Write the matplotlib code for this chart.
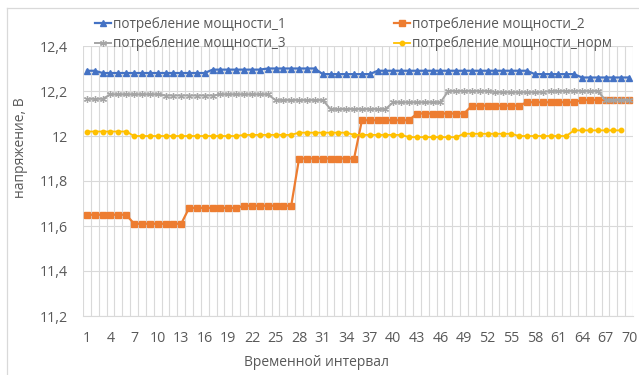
import matplotlib
matplotlib.use("Agg")
import matplotlib.pyplot as plt
from matplotlib.lines import Line2D

plt.rcParams['font.family'] = ['Open Sans', 'DejaVu Sans']

# Time intervals (categories) and supply voltage for each load case
intervals = list(range(1, 71))

power_1 = [
    12.29, 12.29, 12.28, 12.28, 12.28, 12.28, 12.28, 12.28, 12.28, 12.28,
    12.28, 12.28, 12.28, 12.28, 12.28, 12.28, 12.295, 12.295, 12.295, 12.295,
    12.295, 12.295, 12.295, 12.30, 12.30, 12.30, 12.30, 12.30, 12.30, 12.30,
    12.275, 12.275, 12.275, 12.275, 12.275, 12.275, 12.275, 12.29, 12.29, 12.29,
    12.29, 12.29, 12.29, 12.29, 12.29, 12.29, 12.29, 12.29, 12.29, 12.29,
    12.29, 12.29, 12.29, 12.29, 12.29, 12.29, 12.29, 12.275, 12.275, 12.275,
    12.275, 12.275, 12.275, 12.26, 12.26, 12.26, 12.26, 12.26, 12.26, 12.26,
]

power_2 = [
    11.65, 11.65, 11.65, 11.65, 11.65, 11.65, 11.61, 11.61, 11.61, 11.61,
    11.61, 11.61, 11.61, 11.68, 11.68, 11.68, 11.68, 11.68, 11.68, 11.68,
    11.69, 11.69, 11.69, 11.69, 11.69, 11.69, 11.69, 11.90, 11.90, 11.90,
    11.90, 11.90, 11.90, 11.90, 11.90, 12.07, 12.07, 12.07, 12.07, 12.07,
    12.07, 12.07, 12.10, 12.10, 12.10, 12.10, 12.10, 12.10, 12.10, 12.135,
    12.135, 12.135, 12.135, 12.135, 12.135, 12.135, 12.15, 12.15, 12.15, 12.15,
    12.15, 12.15, 12.15, 12.16, 12.16, 12.16, 12.16, 12.16, 12.16, 12.16,
]

power_3 = [
    12.165, 12.165, 12.165, 12.185, 12.185, 12.185, 12.185, 12.185, 12.185, 12.185,
    12.18, 12.18, 12.18, 12.18, 12.18, 12.18, 12.18, 12.185, 12.185, 12.185,
    12.185, 12.185, 12.185, 12.185, 12.16, 12.16, 12.16, 12.16, 12.16, 12.16,
    12.16, 12.12, 12.12, 12.12, 12.12, 12.12, 12.12, 12.12, 12.12, 12.15,
    12.15, 12.15, 12.15, 12.15, 12.15, 12.15, 12.20, 12.20, 12.20, 12.20,
    12.20, 12.20, 12.195, 12.195, 12.195, 12.195, 12.195, 12.195, 12.195, 12.20,
    12.20, 12.20, 12.20, 12.20, 12.20, 12.20, 12.16, 12.16, 12.16, 12.16,
]

power_norm = [
    12.02, 12.02, 12.02, 12.02, 12.02, 12.02, 12.00, 12.00, 12.00, 12.00,
    12.00, 12.00, 12.00, 12.00, 12.00, 12.00, 12.00, 12.00, 12.00, 12.00,
    12.005, 12.005, 12.005, 12.005, 12.005, 12.005, 12.005, 12.015, 12.015, 12.015,
    12.015, 12.015, 12.015, 12.015, 12.005, 12.005, 12.005, 12.005, 12.005, 12.005,
    12.005, 11.995, 11.995, 11.995, 11.995, 11.995, 11.995, 11.995, 12.01, 12.01,
    12.01, 12.01, 12.01, 12.01, 12.01, 12.00, 12.00, 12.00, 12.00, 12.00,
    12.00, 12.00, 12.025, 12.025, 12.025, 12.025, 12.025, 12.025, 12.025,
]

series_names = [
    'потребление мощности_1',
    'потребление мощности_2',
    'потребление мощности_3',
    'потребление мощности_норм',
]

x_tick_values = list(range(1, 71, 3))
y_tick_values = [11.2, 11.4, 11.6, 11.8, 12.0, 12.2, 12.4]
y_tick_labels = ['11,2', '11,4', '11,6', '11,8', '12', '12,2', '12,4']

x_title = 'Временной интервал'
y_title = 'напряжение, В'

# ---- figure layout ----
W, H = 639, 375
fig = plt.figure(figsize=(W / 100, H / 100), dpi=100)
fig.patch.set_facecolor('white')

ax = fig.add_axes([83 / W, (H - 316) / H, 550 / W, 270 / H])

text_col = '#595959'
grid_col = '#d9d9d9'

l1, = ax.plot(intervals, power_1, color='#4472C4', lw=1.6,
              marker='^', ms=4.8, mec='#4472C4', mfc='#4472C4', zorder=4)
l2, = ax.plot(intervals, power_2, color='#ED7D31', lw=1.6,
              marker='s', ms=4.2, mec='#ED7D31', mfc='#ED7D31', zorder=3)
l3, = ax.plot(intervals, power_3, color='#A5A5A5', lw=1.4,
              marker=(6, 2, 0), ms=5.0, mec='#A5A5A5', mew=0.9, zorder=3)
l4, = ax.plot(intervals[:len(power_norm)], power_norm, color='#FFC000', lw=1.3,
              marker='o', ms=3.2, mec='#FFC000', mfc='#FFC000', zorder=3)

ax.set_xlim(0.5, 70.5)
ax.set_ylim(11.2, 12.4)

ax.set_xticks(x_tick_values)
ax.set_xticklabels([str(v) for v in x_tick_values])
ax.set_xticks([i + 0.5 for i in range(0, 71)], minor=True)
ax.set_yticks(y_tick_values)
ax.set_yticklabels(y_tick_labels)

ax.tick_params(axis='both', which='both', length=0, colors=text_col, labelsize=10.3)
ax.tick_params(axis='x', which='major', pad=10.5)
ax.tick_params(axis='y', which='major', pad=11)

ax.grid(axis='y', which='major', color=grid_col, lw=0.8, zorder=0)
ax.grid(axis='x', which='minor', color=grid_col, lw=0.8, zorder=0)
ax.grid(axis='x', which='major', visible=False)
for side in ('top', 'right', 'left'):
    ax.spines[side].set_visible(False)
ax.spines['bottom'].set_color(grid_col)
ax.spines['bottom'].set_linewidth(0.8)
ax.set_axisbelow(True)

# axis titles
fig.text(316 / W, 1 - 362 / H, x_title, ha='center', va='center',
         color=text_col, fontsize=10)
fig.text(21 / W, 1 - 148 / H, y_title, ha='center', va='center',
         rotation=90, color=text_col, fontsize=10)

# legend in two columns
leg_kw = dict(frameon=False, fontsize=9.8, labelcolor=text_col,
              handlelength=1.15, handletextpad=0.2, labelspacing=0.33,
              borderpad=0, borderaxespad=0, loc='upper left')
leg1 = fig.legend([l1, l3], [series_names[0], series_names[2]],
                  bbox_to_anchor=(95 / W, 1 - 17 / H), **leg_kw)
leg2 = fig.legend([l2, l4], [series_names[1], series_names[3]],
                  bbox_to_anchor=(394 / W, 1 - 17 / H), **leg_kw)

# chart area border
fig.add_artist(Line2D([7 / W, 7 / W], [0, 1 - 8 / H], transform=fig.transFigure,
                      color=grid_col, lw=0.9))
fig.add_artist(Line2D([7 / W, 1], [1 - 8 / H, 1 - 8 / H], transform=fig.transFigure,
                      color=grid_col, lw=0.9))

fig.savefig('out.png', dpi=100, facecolor='white')
